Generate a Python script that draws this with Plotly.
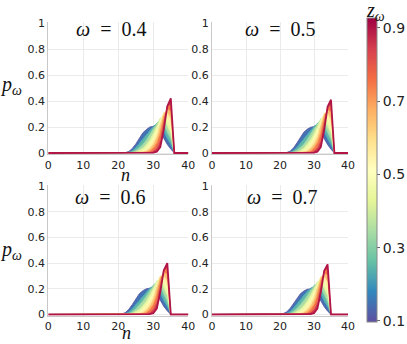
import plotly.graph_objects as go
from plotly.colors import sample_colorscale, get_colorscale

# ---------------- data ----------------
N_AXIS = list(range(0, 41))                 # n = 0 .. 40
Z_LEVELS = [0.1, 0.2, 0.3, 0.4, 0.5, 0.6, 0.7, 0.8, 0.9]
OMEGA_LABELS = ["0.4", "0.5", "0.6", "0.7"]
N_FIRST = [21, 21, 20, 20]                  # first n of each panel's listed support

# rows: z = 0.1 ... 0.9 ; columns: 16 consecutive n values starting at N_FIRST
P_OMEGA_04 = [
    [0, .003, .012, .035, .070, .110, .155, .180, .200, .205, .195, .160, .110, .065, .030, 0],
    [0, .001, .006, .018, .040, .072, .105, .140, .175, .205, .225, .215, .170, .110, .065, 0],
    [0, 0, .002, .008, .020, .040, .065, .100, .140, .185, .230, .255, .225, .160, .105, 0],
    [0, 0, 0, .002, .007, .018, .035, .065, .100, .150, .210, .270, .270, .215, .150, 0],
    [0, 0, 0, 0, .002, .006, .015, .035, .065, .110, .170, .255, .305, .265, .205, 0],
    [0, 0, 0, 0, 0, .001, .005, .015, .035, .070, .125, .215, .310, .310, .265, 0],
    [0, 0, 0, 0, 0, 0, .001, .005, .015, .040, .080, .160, .280, .340, .320, 0],
    [0, 0, 0, 0, 0, 0, 0, .001, .005, .015, .040, .100, .230, .360, .370, 0],
    [0, 0, 0, 0, 0, 0, 0, 0, .001, .003, .010, .045, .180, .360, .420, 0],
]
P_OMEGA_05 = [
    [0, .004, .015, .040, .078, .120, .160, .183, .198, .203, .193, .158, .108, .064, .029, 0],
    [0, .001, .007, .020, .044, .078, .110, .145, .177, .205, .222, .212, .168, .108, .063, 0],
    [0, 0, .002, .009, .022, .043, .068, .104, .143, .186, .228, .252, .222, .158, .103, 0],
    [0, 0, 0, .002, .008, .019, .037, .067, .102, .150, .208, .265, .266, .212, .148, 0],
    [0, 0, 0, 0, .002, .007, .016, .036, .066, .110, .168, .250, .300, .262, .202, 0],
    [0, 0, 0, 0, 0, .001, .005, .016, .036, .070, .124, .212, .305, .306, .261, 0],
    [0, 0, 0, 0, 0, 0, .001, .005, .015, .040, .080, .158, .276, .335, .315, 0],
    [0, 0, 0, 0, 0, 0, 0, .001, .005, .015, .040, .099, .227, .354, .364, 0],
    [0, 0, 0, 0, 0, 0, 0, 0, .001, .003, .010, .045, .178, .355, .410, 0],
]
P_OMEGA_06 = [
    [0, .004, .015, .040, .078, .120, .162, .185, .200, .205, .195, .158, .108, .063, .028, 0],
    [0, .001, .007, .020, .044, .078, .112, .146, .178, .205, .222, .212, .166, .107, .062, 0],
    [0, 0, .002, .008, .022, .043, .070, .105, .143, .186, .228, .250, .220, .157, .102, 0],
    [0, 0, 0, .002, .008, .020, .038, .068, .103, .150, .208, .262, .265, .210, .147, 0],
    [0, 0, 0, 0, .002, .007, .016, .037, .067, .110, .168, .248, .298, .260, .200, 0],
    [0, 0, 0, 0, 0, .001, .005, .016, .036, .070, .123, .210, .300, .303, .258, 0],
    [0, 0, 0, 0, 0, 0, .001, .005, .015, .040, .080, .157, .272, .330, .312, 0],
    [0, 0, 0, 0, 0, 0, 0, .001, .005, .015, .040, .098, .224, .348, .358, 0],
    [0, 0, 0, 0, 0, 0, 0, 0, .001, .003, .010, .045, .175, .345, .400, 0],
]
P_OMEGA_07 = [
    [.002, .008, .022, .048, .085, .125, .162, .183, .196, .200, .188, .152, .104, .060, .026, 0],
    [0, .003, .010, .024, .050, .084, .118, .150, .180, .204, .218, .207, .162, .104, .060, 0],
    [0, .001, .003, .010, .025, .047, .074, .108, .146, .186, .225, .245, .215, .153, .099, 0],
    [0, 0, .001, .003, .009, .022, .040, .070, .105, .150, .205, .257, .258, .206, .144, 0],
    [0, 0, 0, .001, .003, .008, .018, .038, .068, .110, .166, .243, .290, .255, .196, 0],
    [0, 0, 0, 0, .001, .002, .006, .017, .037, .071, .122, .206, .293, .297, .252, 0],
    [0, 0, 0, 0, 0, .001, .002, .006, .016, .041, .080, .154, .266, .322, .305, 0],
    [0, 0, 0, 0, 0, 0, .001, .002, .006, .016, .041, .096, .218, .340, .350, 0],
    [0, 0, 0, 0, 0, 0, 0, .001, .002, .004, .011, .045, .172, .340, .390, 0],
]
PANELS = [P_OMEGA_04, P_OMEGA_05, P_OMEGA_06, P_OMEGA_07]

X_TICKS = [0, 10, 20, 30, 40]
Y_TICKS = [0, 0.2, 0.4, 0.6, 0.8, 1]
CBAR_TICKS = [0.1, 0.3, 0.5, 0.7, 0.9]

# ---------------- styling / layout ----------------
W, H = 407, 344
CMIN, CMAX = 0.097, 0.927
SCALE = get_colorscale("Spectral_r")


def zcolor(z):
    return sample_colorscale(SCALE, [(z - CMIN) / (CMAX - CMIN)])[0]


def px_x(p):
    return p / W


def px_y(p):
    return 1 - p / H


# plot-area pixel boxes: (left, right, y of p=1, y of p=0)
BOXES = [
    (48.3, 188.3, 23.0, 153.0),
    (212.0, 348.0, 23.0, 153.0),
    (48.3, 188.3, 186.0, 314.5),
    (212.0, 348.0, 186.0, 314.5),
]
Y_RANGE = [-0.01, 1.005]

fig = go.Figure()
layout = {}
for i, (panel, n0, box) in enumerate(zip(PANELS, N_FIRST, BOXES)):
    ax = "" if i == 0 else str(i + 1)
    xa, ya = "x" + ax, "y" + ax
    for k, (z, row) in enumerate(zip(Z_LEVELS, panel)):
        yvals = [0.0] * len(N_AXIS)
        for j, v in enumerate(row):
            yvals[n0 + j] = v
        last = k == len(Z_LEVELS) - 1
        tr = dict(
            x=N_AXIS, y=yvals, mode="lines", xaxis=xa, yaxis=ya,
            line=dict(color=zcolor(z), width=1.8 if last else 0.8),
            showlegend=False, hoverinfo="skip",
        )
        if k > 0:
            tr["fill"] = "tonexty"
            tr["fillcolor"] = zcolor((z + Z_LEVELS[k - 1]) / 2)
        fig.add_trace(go.Scatter(**tr))
    l, r, t, b = box
    unit = b - t
    top_px = t - (Y_RANGE[1] - 1) * unit
    bot_px = b - Y_RANGE[0] * unit
    common = dict(
        showgrid=True, gridcolor="#ebebeb", gridwidth=1, zeroline=False,
        showline=True, linecolor="#c8c8c8", linewidth=1, ticks="",
        tickfont=dict(family="DejaVu Sans", size=11, color="#222"),
    )
    layout["xaxis" + ax] = dict(
        domain=[px_x(l), px_x(r)], range=[0, 40], anchor=ya,
        tickvals=X_TICKS, ticktext=[str(v) for v in X_TICKS], **common)
    layout["yaxis" + ax] = dict(
        domain=[px_y(bot_px), px_y(top_px)], range=Y_RANGE, anchor=xa,
        tickvals=Y_TICKS, ticktext=["0", "0.2", "0.4", "0.6", "0.8", "1"], **common)

# colorbar carrier
fig.add_trace(go.Scatter(
    x=[None], y=[None], mode="markers", showlegend=False, hoverinfo="skip",
    marker=dict(
        color=[0.5], colorscale=SCALE, cmin=CMIN, cmax=CMAX, showscale=True,
        colorbar=dict(
            x=px_x(367), xanchor="left", y=px_y(170), yanchor="middle",
            xpad=0, ypad=0,
            thickness=10, thicknessmode="pixels", len=304 / H, lenmode="fraction",
            tickvals=CBAR_TICKS, ticktext=["0.1", "0.3", "0.5", "0.7", "0.9"],
            ticks="outside", ticklen=3, tickcolor="#666",
            tickfont=dict(family="DejaVu Sans", size=14, color="#222"),
            outlinewidth=1, outlinecolor="#888",
        ),
    ),
))

SERIF = "Liberation Serif"
ann = []
title_pos = [(111, 29), (280, 29), (110, 197), (282, 197)]
for lab, (tx, ty) in zip(OMEGA_LABELS, title_pos):
    ann.append(dict(text="<i>ω</i>\u00a0\u00a0=\u00a0\u00a0" + lab, x=px_x(tx), y=px_y(ty),
                    xref="paper", yref="paper", showarrow=False,
                    xanchor="center", yanchor="middle",
                    font=dict(family=SERIF, size=20, color="#111")))
for (tx, ty) in [(11, 85), (11, 250)]:
    ann.append(dict(text="<i>p</i><sub><i>ω</i></sub>", x=px_x(tx), y=px_y(ty),
                    xref="paper", yref="paper", showarrow=False,
                    xanchor="center", yanchor="middle",
                    font=dict(family=SERIF, size=20, color="#111")))
for (tx, ty) in [(125, 175), (126, 333)]:
    ann.append(dict(text="<i>n</i>", x=px_x(tx), y=px_y(ty),
                    xref="paper", yref="paper", showarrow=False,
                    xanchor="center", yanchor="middle",
                    font=dict(family=SERIF, size=18, color="#111")))
ann.append(dict(text="<i>z</i><sub><i>ω</i></sub>", x=px_x(375), y=px_y(12),
                xref="paper", yref="paper", showarrow=False,
                xanchor="center", yanchor="middle",
                font=dict(family=SERIF, size=20, color="#111")))

fig.update_layout(
    width=W, height=H, margin=dict(l=0, r=0, t=0, b=0, pad=0, autoexpand=False),
    paper_bgcolor="white", plot_bgcolor="white",
    annotations=ann, **layout,
)
fig.write_html(
    "out.html",
    config={"displayModeBar": False, "staticPlot": True},
    post_script="document.body.style.margin='0';document.body.style.padding='0';"
                "document.documentElement.style.overflow='hidden';",
)
